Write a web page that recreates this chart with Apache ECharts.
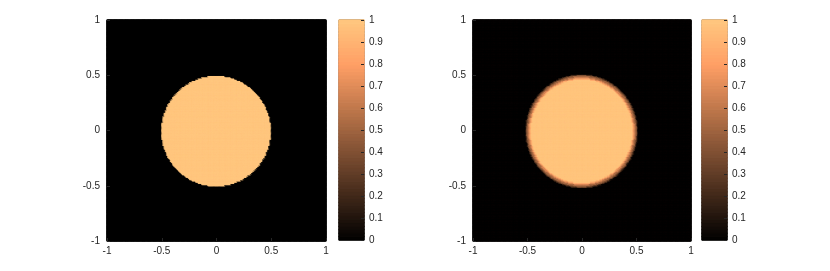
<!DOCTYPE html>
<html>
<head>
<meta charset="utf-8">
<script src="https://cdn.jsdelivr.net/npm/echarts@6/dist/echarts.min.js"></script>
<style>html,body{margin:0;padding:0;background:#fff}#c{width:830px;height:271px}</style>
</head>
<body>
<div id="c"></div>
<script>
// ---- data ----
const axisTicks = [-1, -0.5, 0, 0.5, 1];
const colorbarTicks = [0, 0.1, 0.2, 0.3, 0.4, 0.5, 0.6, 0.7, 0.8, 0.9, 1];
const gridCells = 180;            // image resolution (cells per side)
const colorbarLevels = 64;        // copper colormap levels
// left image: radial profile (outer radius of each zone -> value)
const truthRadii  = [0.5, 9];
const truthValues = [1, 0];
// right image: radial profile, bright disk with a darker rim
const reconRadii  = [0.468, 0.478, 0.488, 0.500, 0.508, 0.516, 9];
const reconValues = [0.99, 0.86, 0.68, 0.52, 0.40, 0.22, 0.015];

function copper(v) {
  const r = Math.min(1, 1.25 * v), g = 0.7812 * v, b = 0.4975 * v;
  return 'rgb(' + Math.round(r * 255) + ',' + Math.round(g * 255) + ',' + Math.round(b * 255) + ')';
}
const copperStops = [0, 0.2, 0.4, 0.6, 0.8, 1].map(copper);

// ---- build heatmap cells ----
function profileValue(r, radii, values) {
  for (let i = 0; i < radii.length; i++) if (r <= radii[i]) return values[i];
  return values[values.length - 1];
}
function cell(i, j, v) {
  // border in the cell's own colour hides sub-pixel seams between cells
  return {value: [i, j, v], itemStyle: {borderColor: copper(v), borderWidth: 0.8}};
}
function buildImage(radii, values) {
  const out = [];
  for (let j = 0; j < gridCells; j++) {
    const y = -1 + (j + 0.5) * 2 / gridCells;
    for (let i = 0; i < gridCells; i++) {
      const x = -1 + (i + 0.5) * 2 / gridCells;
      out.push(cell(i, j, profileValue(Math.hypot(x, y), radii, values)));
    }
  }
  return out;
}
const cellIdx = Array.from({length: gridCells}, (_, i) => i);
const levelIdx = Array.from({length: colorbarLevels}, (_, i) => i);
const colorbarData = levelIdx.map(k => cell(0, k, (k + 0.5) / colorbarLevels));

const txt = '#262626';
const font = {color: txt, fontSize: 10, fontFamily: 'Liberation Sans, Arial, sans-serif'};
const panels = [
  {left: 107, width: 219, cbLeft: 339},
  {left: 473, width: 218, cbLeft: 702}
];
const grids = [], xAxes = [], yAxes = [], series = [];
panels.forEach((p, k) => {
  const gi = grids.length;
  grids.push({left: p.left, top: 20, width: p.width, height: 221, show: true,
    backgroundColor: '#000', borderColor: txt, borderWidth: 1, containLabel: false});
  xAxes.push({type: 'category', gridIndex: gi, data: cellIdx, show: false});
  yAxes.push({type: 'category', gridIndex: gi, data: cellIdx, show: false});
  xAxes.push({type: 'value', gridIndex: gi, min: -1, max: 1, interval: 0.5, position: 'bottom',
    axisLine: {show: false}, splitLine: {show: false},
    axisTick: {show: true, inside: true, length: 3, lineStyle: {color: txt}},
    axisLabel: Object.assign({margin: 5, formatter: v => String(v)}, font), z: 6});
  yAxes.push({type: 'value', gridIndex: gi, min: -1, max: 1, interval: 0.5, position: 'left',
    axisLine: {show: false}, splitLine: {show: false},
    axisTick: {show: true, inside: true, length: 3, lineStyle: {color: txt}},
    axisLabel: Object.assign({margin: 7, formatter: v => String(v)}, font), z: 6});
  series.push({type: 'heatmap', xAxisIndex: xAxes.length - 2, yAxisIndex: yAxes.length - 2,
    data: buildImage(k === 0 ? truthRadii : reconRadii, k === 0 ? truthValues : reconValues),
    progressive: 0, animation: false, emphasis: {disabled: true}});
  const ci = grids.length;
  grids.push({left: p.cbLeft, top: 20, width: 25, height: 220, show: true,
    backgroundColor: 'transparent', borderColor: txt, borderWidth: 1});
  xAxes.push({type: 'category', gridIndex: ci, data: [0], show: false});
  yAxes.push({type: 'category', gridIndex: ci, data: levelIdx, show: false});
  xAxes.push({type: 'value', gridIndex: ci, min: 0, max: 1, show: false});
  yAxes.push({type: 'value', gridIndex: ci, min: 0, max: 1, interval: 0.1, position: 'right',
    axisLine: {show: false}, splitLine: {show: false},
    axisTick: {show: true, inside: true, length: 3, lineStyle: {color: txt}},
    axisLabel: Object.assign({margin: 5, formatter: v => String(Math.round(v * 10) / 10)}, font), z: 6});
  series.push({type: 'heatmap', xAxisIndex: xAxes.length - 2, yAxisIndex: yAxes.length - 2,
    data: colorbarData, progressive: 0, animation: false, emphasis: {disabled: true}});
});

const chart = echarts.init(document.getElementById('c'), null, {renderer: 'canvas'});
chart.setOption({
  animation: false,
  backgroundColor: '#fff',
  grid: grids, xAxis: xAxes, yAxis: yAxes, series: series,
  visualMap: {type: 'continuous', min: 0, max: 1, show: false, dimension: 2,
    seriesIndex: series.map((_, i) => i), inRange: {color: copperStops}}
});
</script>
</body>
</html>
